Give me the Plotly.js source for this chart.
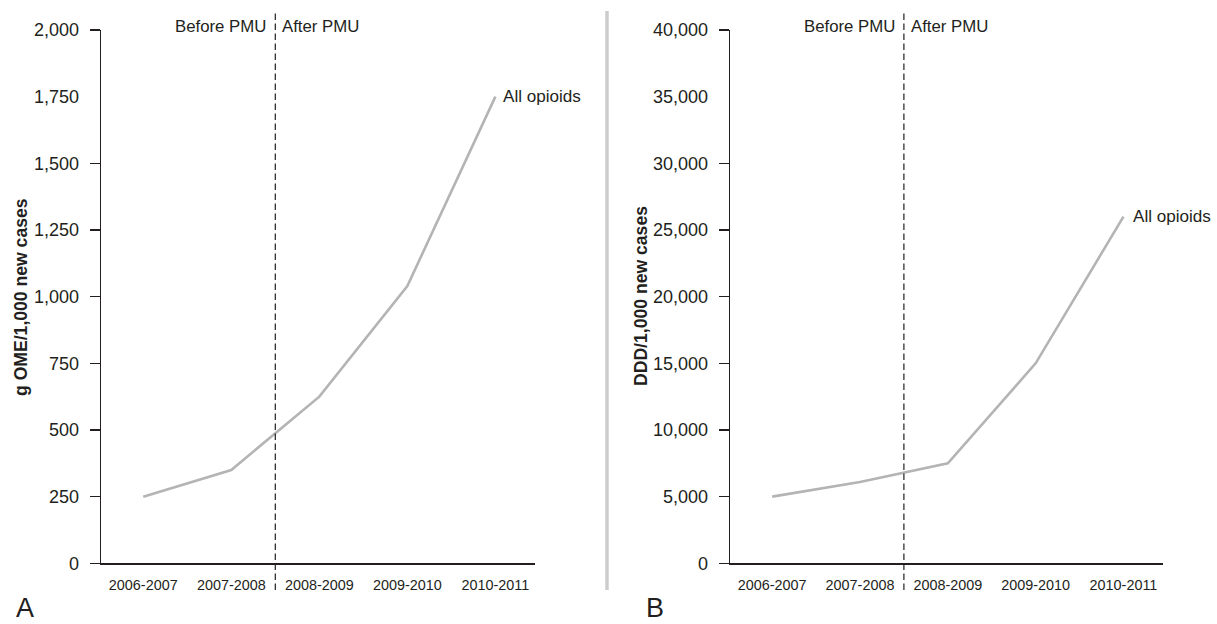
<!DOCTYPE html>
<html>
<head>
<meta charset="utf-8">
<script src="https://cdn.plot.ly/plotly-3.0.1.min.js"></script>
<style>
  html, body { margin: 0; padding: 0; background: #ffffff; }
  #chart { width: 1217px; height: 624px; }
</style>
</head>
<body>
<div id="chart"></div>
<script>
// ---- data ----
const categories = ['2006-2007', '2007-2008', '2008-2009', '2009-2010', '2010-2011'];
const omeValues = [250, 350, 625, 1040, 1750];          // panel A: g OME / 1,000 new cases
const dddValues = [5000, 6100, 7500, 15000, 26000];     // panel B: DDD / 1,000 new cases
const omeTicks = [0, 250, 500, 750, 1000, 1250, 1500, 1750, 2000];
const dddTicks = [0, 5000, 10000, 15000, 20000, 25000, 30000, 35000, 40000];
const omeTickMarks = [0, 250, 500, 750, 1000, 1250, 1500, 2000];
const dddTickMarks = [0, 5000, 10000, 15000, 20000, 25000, 30000, 40000];
const seriesName = 'All opioids';
const pmuBoundary = 1.5; // between 2007-2008 and 2008-2009

// ---- style ----
const W = 1217, H = 624;
const ink = '#231f20';
const lineGray = '#b4b4b4';
const FONT = 'Liberation Sans, Arial, Helvetica, sans-serif';
const px = v => v / W;
const py = v => (H - v) / H;

const xDomA = [px(101), px(535)];
const xDomB = [px(730), px(1163)];
const yDom = [py(563.3), py(30)];
const xRange = [-0.48, 4.45];

const traces = [
  { x: categories, y: omeValues, xaxis: 'x', yaxis: 'y', type: 'scatter', mode: 'lines',
    line: { color: lineGray, width: 2.6 }, name: seriesName, showlegend: false, hoverinfo: 'skip' },
  { x: categories, y: dddValues, xaxis: 'x2', yaxis: 'y2', type: 'scatter', mode: 'lines',
    line: { color: lineGray, width: 2.6 }, name: seriesName, showlegend: false, hoverinfo: 'skip' },
  { x: [], y: [], xaxis: 'x', yaxis: 'y3', type: 'scatter', mode: 'lines', showlegend: false, hoverinfo: 'skip' },
  { x: [], y: [], xaxis: 'x2', yaxis: 'y4', type: 'scatter', mode: 'lines', showlegend: false, hoverinfo: 'skip' }
];

function xAxis(domain, anchor) {
  return {
    domain: domain, anchor: anchor, type: 'category', range: xRange,
    showline: true, linecolor: ink, linewidth: 1.3, ticks: '', showgrid: false, zeroline: false,
    tickfont: { family: FONT, size: 14.4, color: ink }, ticklabelstandoff: 8,
    fixedrange: true
  };
}
function yLabelAxis(anchor, ticks, maxV) {
  return {
    domain: yDom, anchor: anchor, range: [0, maxV], tickvals: ticks, tickformat: ',',
    showline: true, linecolor: ink, linewidth: 1.3, ticks: '', showgrid: false, zeroline: false,
    tickfont: { family: FONT, size: 18, color: ink }, ticklabelstandoff: 17, fixedrange: true
  };
}
function yTickAxis(anchor, over, marks, maxV) {
  return {
    domain: yDom, anchor: anchor, overlaying: over, range: [0, maxV], tickvals: marks,
    showline: false, ticks: 'outside', ticklen: 10, tickwidth: 1.3, tickcolor: ink,
    showticklabels: false, showgrid: false, zeroline: false, fixedrange: true
  };
}

const pmuShapes = ['x', 'x2'].map(xr => ({
  type: 'line', xref: xr, yref: 'paper', x0: pmuBoundary, x1: pmuBoundary, y0: py(590), y1: py(12),
  line: { color: ink, width: 1.2, dash: '6.5px,3.5px' }
}));
const separator = {
  type: 'line', xref: 'paper', yref: 'paper', x0: px(607), x1: px(607), y0: py(590), y1: py(11),
  line: { color: '#cccccc', width: 3.5 }
};

const textFont = (s, bold) => ({ family: FONT, size: s, color: ink, weight: bold ? 'bold' : 'normal' });
const annotations = [];
['x', 'x2'].forEach(xr => {
  annotations.push({ xref: xr, yref: 'paper', x: pmuBoundary, y: py(27), text: 'Before PMU',
    showarrow: false, xanchor: 'right', yanchor: 'middle', xshift: -7, font: textFont(16.8) });
  annotations.push({ xref: xr, yref: 'paper', x: pmuBoundary, y: py(27), text: 'After PMU',
    showarrow: false, xanchor: 'left', yanchor: 'middle', xshift: 5, font: textFont(16.8) });
});
annotations.push({ xref: 'x', yref: 'y', x: categories[categories.length - 1], y: omeValues[omeValues.length - 1],
  text: seriesName, showarrow: false, xanchor: 'left', yanchor: 'middle', xshift: 6, font: textFont(17.1) });
annotations.push({ xref: 'x2', yref: 'y2', x: categories[categories.length - 1], y: dddValues[dddValues.length - 1],
  text: seriesName, showarrow: false, xanchor: 'left', yanchor: 'middle', xshift: 8, font: textFont(17.1) });
annotations.push({ xref: 'paper', yref: 'paper', x: px(21), y: py(297), text: 'g OME/1,000 new cases',
  textangle: -90, showarrow: false, xanchor: 'center', yanchor: 'middle', font: textFont(17.6, true) });
annotations.push({ xref: 'paper', yref: 'paper', x: px(641), y: py(296), text: 'DDD/1,000 new cases',
  textangle: -90, showarrow: false, xanchor: 'center', yanchor: 'middle', font: textFont(17.6, true) });
annotations.push({ xref: 'paper', yref: 'paper', x: px(25), y: 0, text: 'A',
  showarrow: false, xanchor: 'center', yanchor: 'bottom', borderpad: 0, font: textFont(27) });
annotations.push({ xref: 'paper', yref: 'paper', x: px(655), y: 0, text: 'B',
  showarrow: false, xanchor: 'center', yanchor: 'bottom', borderpad: 0, font: textFont(27) });

const layout = {
  width: W, height: H,
  margin: { l: 0, r: 0, t: 0, b: 0 },
  paper_bgcolor: '#ffffff', plot_bgcolor: 'rgba(0,0,0,0)',
  showlegend: false, hovermode: false,
  font: { family: FONT, color: ink },
  xaxis: xAxis(xDomA, 'y'),
  xaxis2: xAxis(xDomB, 'y2'),
  yaxis: yLabelAxis('x', omeTicks, 2000),
  yaxis2: yLabelAxis('x2', dddTicks, 40000),
  yaxis3: yTickAxis('x', 'y', omeTickMarks, 2000),
  yaxis4: yTickAxis('x2', 'y2', dddTickMarks, 40000),
  shapes: [...pmuShapes, separator],
  annotations: annotations
};

Plotly.newPlot('chart', traces, layout, { staticPlot: true, displayModeBar: false });
</script>
</body>
</html>
